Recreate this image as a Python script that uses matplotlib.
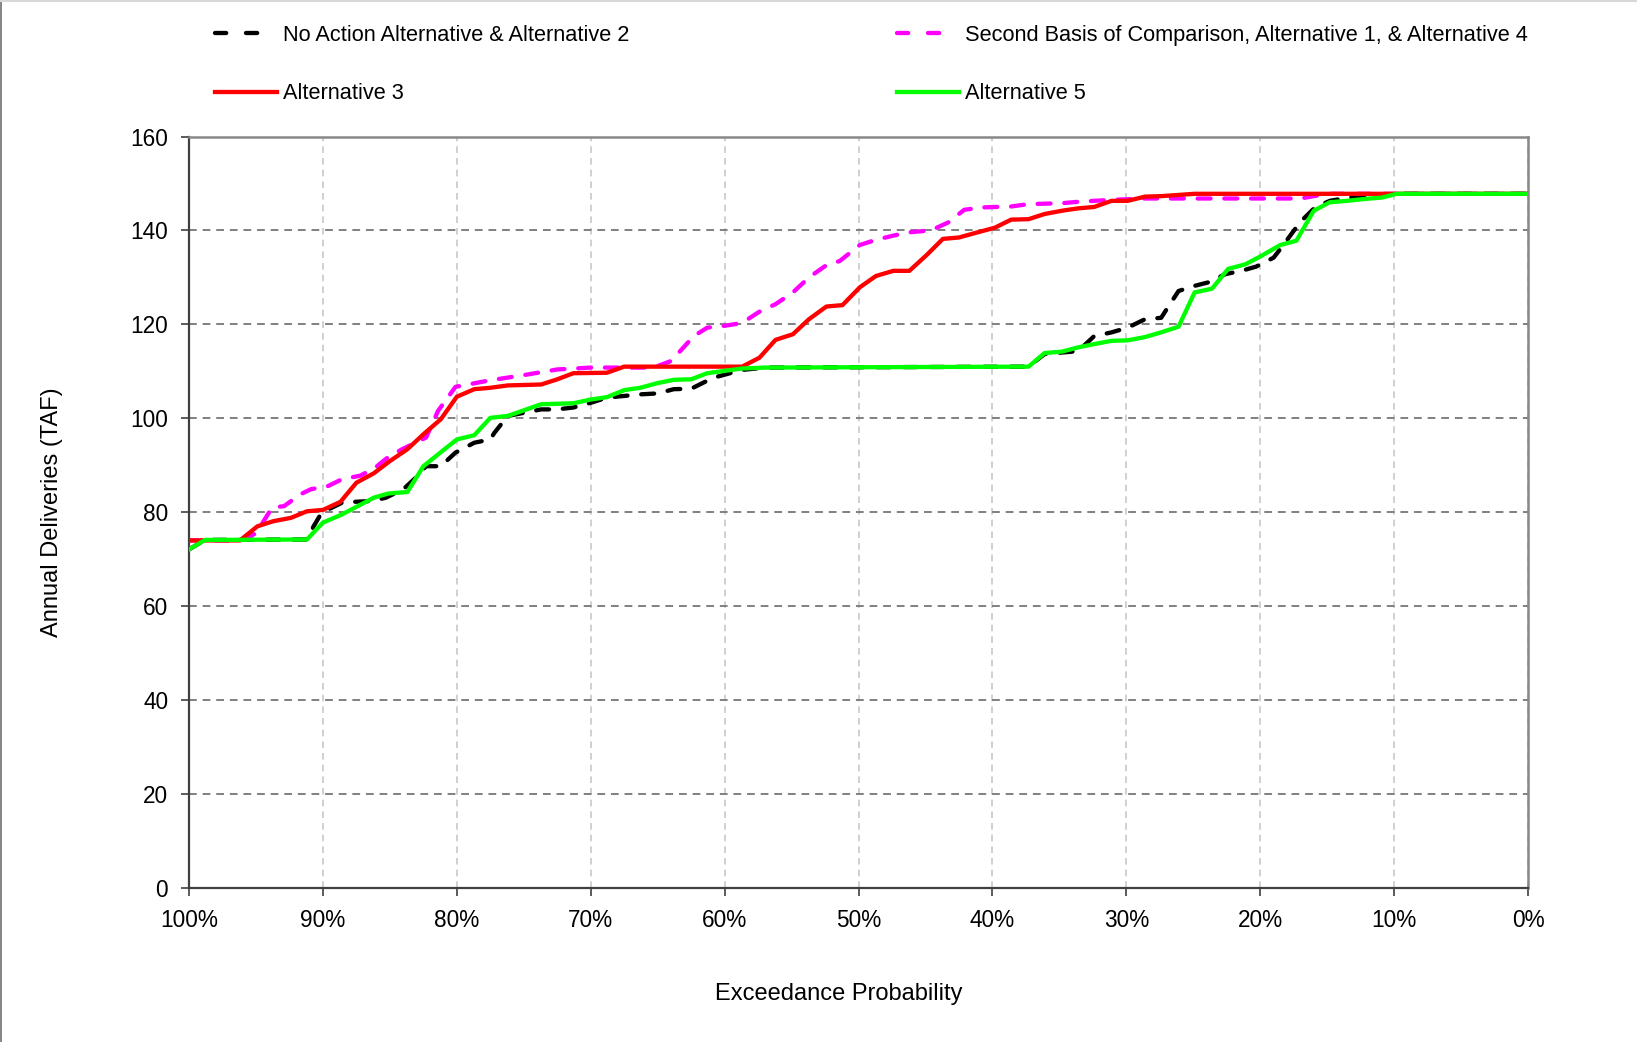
import matplotlib
matplotlib.use("Agg")
from matplotlib import pyplot as plt
from matplotlib.lines import Line2D
import numpy as np

plt.rcParams['font.family'] = ['Liberation Sans', 'DejaVu Sans']

# exceedance probability (%) and annual deliveries (TAF)
noaction_x = [100, 98.8, 91.2, 90.7, 90.1, 88.6, 87.8, 86.3, 85.3, 84.0, 83.2, 82.3, 81.2, 80.1,
              78.7, 77.5, 77.2, 76.2, 73.7, 72.5, 71.3, 70.0, 68.8, 66.3, 65.0, 63.8, 62.5, 61.3,
              60.5, 58.7, 57.0, 37.3, 36.1, 33.6, 32.4, 31.1, 29.9, 28.6, 27.4, 26.1, 24.9, 23.8,
              22.6, 21.4, 20.3, 19.0, 18.4, 17.5, 16.9, 15.9, 14.8, 13.4, 12.4, 9.8, 0]
noaction_y = [72.1, 74.1, 74.2, 77.0, 79.9, 82.0, 82.2, 82.4, 83.1, 84.9, 87.0, 89.8, 89.8, 92.7,
              94.8, 95.5, 96.9, 100.5, 101.9, 101.9, 102.3, 103.3, 104.4, 105.1, 105.3, 106.2, 106.3, 108.0,
              108.9, 110.3, 110.8, 111.0, 113.7, 114.3, 117.5, 118.3, 119.3, 121.1, 121.4, 127.1, 128.2, 129.0,
              130.7, 131.4, 132.3, 134.2, 136.4, 139.9, 142.1, 144.9, 146.3, 147.0, 147.2, 147.8, 147.8]

second_x = [100, 96.2, 95.0, 93.8, 92.9, 91.7, 90.9, 89.6, 88.6, 87.2, 86.1, 85.1, 84.1, 82.3,
            81.4, 80.1, 77.5, 75.0, 72.5, 70.0, 65.3, 64.0, 62.3, 61.3, 60.0, 58.7, 57.4, 56.2,
            54.9, 53.7, 52.4, 51.4, 49.9, 48.7, 47.4, 46.2, 44.6, 43.3, 42.1, 40.8, 38.6, 37.3,
            34.8, 33.6, 32.4, 31.1, 28.6, 17.0, 15.0, 0]
second_y = [74.0, 74.0, 75.5, 81.0, 81.3, 83.8, 84.9, 85.6, 87.0, 87.8, 89.5, 91.8, 93.4, 95.9,
            101.6, 106.7, 108.1, 109.2, 110.4, 110.8, 110.8, 112.2, 117.5, 119.3, 119.7, 120.3, 122.7, 124.3,
            126.8, 130.0, 132.6, 133.5, 136.9, 138.0, 138.9, 139.6, 140.0, 141.7, 144.4, 144.9, 145.1, 145.6,
            145.8, 146.1, 146.3, 146.5, 146.8, 146.8, 147.8, 147.8]

alt3_x = [100, 96.2, 94.9, 93.7, 92.4, 91.2, 90.0, 88.7, 87.5, 86.2, 85.0, 83.7, 82.5, 81.2,
          80.0, 78.7, 77.5, 76.2, 73.7, 72.5, 71.3, 68.8, 67.5, 58.7, 57.4, 56.2, 54.9, 53.7,
          52.4, 51.2, 49.9, 48.7, 47.4, 46.2, 44.9, 43.7, 42.5, 41.1, 39.8, 38.6, 37.3, 36.1,
          34.8, 33.6, 32.4, 31.1, 29.9, 28.6, 27.4, 24.9, 0]
alt3_y = [74.0, 74.0, 77.0, 78.1, 78.8, 80.2, 80.5, 82.2, 86.3, 88.3, 90.9, 93.4, 96.6, 99.8,
          104.6, 106.2, 106.5, 107.0, 107.2, 108.3, 109.6, 109.7, 111.0, 111.0, 112.9, 116.7, 117.9, 121.1,
          123.8, 124.1, 127.9, 130.3, 131.4, 131.4, 134.8, 138.2, 138.5, 139.6, 140.6, 142.3, 142.4, 143.5,
          144.2, 144.7, 145.0, 146.3, 146.3, 147.2, 147.3, 147.8, 147.8]

alt5_x = [100, 98.8, 91.2, 90.0, 88.6, 87.4, 86.2, 85.1, 83.7, 82.5, 81.1, 80.0, 78.7, 77.5,
          76.2, 75.0, 73.7, 71.3, 70.0, 68.8, 67.5, 66.3, 65.0, 63.8, 62.5, 61.3, 60.0, 58.7,
          57.0, 37.3, 36.1, 34.8, 33.6, 32.4, 31.1, 29.9, 28.6, 27.4, 26.1, 24.9, 23.6, 22.4,
          21.1, 19.9, 18.5, 17.3, 16.0, 14.8, 13.5, 12.2, 10.9, 9.8, 0]
alt5_y = [72.1, 74.1, 74.2, 77.8, 79.5, 81.3, 83.1, 84.0, 84.3, 89.8, 93.0, 95.5, 96.4, 100.1,
          100.5, 101.7, 103.0, 103.2, 104.0, 104.5, 106.0, 106.5, 107.5, 108.2, 108.3, 109.6, 110.1, 110.6,
          110.8, 111.0, 113.9, 114.2, 115.1, 115.8, 116.5, 116.6, 117.3, 118.3, 119.5, 126.8, 127.6, 131.8,
          132.8, 134.6, 136.9, 137.8, 144.2, 146.0, 146.3, 146.7, 147.0, 147.8, 147.8]

labels = ['No Action Alternative & Alternative 2',
          'Second Basis of Comparison, Alternative 1, & Alternative 4',
          'Alternative 3', 'Alternative 5']

fig = plt.figure(figsize=(16.37, 10.42), dpi=100)
ax = fig.add_axes([0.1155, 0.1478, 0.8179, 0.7212])

lw = 3.1
ax.plot(noaction_x, noaction_y, color='black', lw=lw, dashes=(3.0, 3.2),
        dash_capstyle='round', zorder=3)
ax.plot(second_x, second_y, color='#ff00ff', lw=lw, dashes=(3.0, 3.2),
        dash_capstyle='round', zorder=3)
ax.plot(alt3_x, alt3_y, color='#ff0000', lw=lw, zorder=4)
ax.plot(alt5_x, alt5_y, color='#00ff00', lw=lw, zorder=5)

ax.set_xlim(100, 0)
ax.set_ylim(0, 160)
ax.set_xticks(np.arange(100, -1, -10))
ax.set_xticklabels(['%d%%' % v for v in np.arange(100, -1, -10)])
ax.set_yticks(np.arange(0, 161, 20))

ax.yaxis.grid(True, color='#808080', ls=(0, (4, 3)), lw=1.4)
ax.xaxis.grid(True, color='#c8c8c8', ls=(0, (4, 3)), lw=1.2)
ax.set_axisbelow(True)

for s in ['left', 'bottom']:
    ax.spines[s].set_color('#404040')
    ax.spines[s].set_linewidth(1.6)
for s in ['right', 'top']:
    ax.spines[s].set_color('#888888')
    ax.spines[s].set_linewidth(1.8)
ax.spines['top'].set_zorder(6)

ax.tick_params(axis='both', direction='out', length=6, width=1.2, color='#404040',
               labelsize=16.3, colors='black')
ax.tick_params(axis='y', pad=9)
ax.tick_params(axis='x', pad=9)

ax.set_ylabel('Annual Deliveries (TAF)', fontsize=17, va='center')
ax.yaxis.set_label_coords(-0.1023, 0.5)
ax.set_xlabel('Exceedance Probability', fontsize=17, va='center')
ax.xaxis.set_label_coords(0.4854, -0.141)

# legend proxies so each dashed handle shows two clean dashes
h_black = Line2D([], [], color='black', lw=lw, dashes=(2.6, 4.6), dash_capstyle='round')
h_mag = Line2D([], [], color='#ff00ff', lw=lw, dashes=(2.6, 4.6), dash_capstyle='round')
h_red = Line2D([], [], color='#ff0000', lw=lw)
h_green = Line2D([], [], color='#00ff00', lw=lw)

leg_kw = dict(frameon=False, fontsize=15.7, handlelength=2.85, handletextpad=0.25,
              labelspacing=1.72, borderpad=0, loc='upper left')
fig.legend(handles=[h_black, h_red], labels=[labels[0], labels[2]],
           bbox_to_anchor=(0.1248, 0.9867), **leg_kw)
fig.legend(handles=[h_mag, h_green], labels=[labels[1], labels[3]],
           bbox_to_anchor=(0.5413, 0.9867), **leg_kw)

# thin outer frame edges
fig.add_artist(Line2D([0.0006, 0.0006], [0, 1], transform=fig.transFigure, color='#707070', lw=1.2))
fig.add_artist(Line2D([0, 1], [0.999, 0.999], transform=fig.transFigure, color='#d8d8d8', lw=1.5))

fig.savefig('out.png', dpi=100)
